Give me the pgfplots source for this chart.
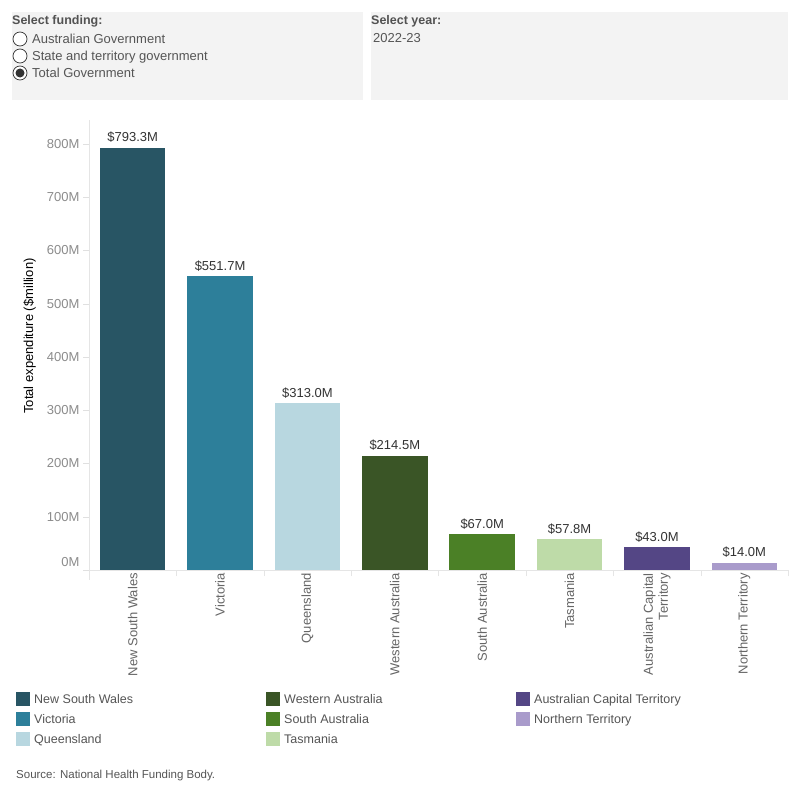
\documentclass[border=0pt]{standalone}
\usepackage{pgfplots}
\pgfplotsset{compat=1.18}
\usepackage{fontspec}
\setmainfont{Liberation Sans}
\definecolor{cNSW}{HTML}{285564}
\definecolor{cVIC}{HTML}{2D7F9A}
\definecolor{cQLD}{HTML}{B8D7E0}
\definecolor{cWA}{HTML}{3A5526}
\definecolor{cSA}{HTML}{4B8026}
\definecolor{cTAS}{HTML}{BEDBA8}
\definecolor{cACT}{HTML}{544685}
\definecolor{cNT}{HTML}{A99BCB}
\definecolor{panel}{HTML}{F3F3F3}
\definecolor{darktext}{HTML}{333333}
\definecolor{midtext}{HTML}{555555}
\definecolor{tickgray}{HTML}{8C8C8C}
\definecolor{xlabgray}{HTML}{666666}
\newcommand{\fs}{\fontsize{13}{15}\selectfont}
\newcommand{\fl}{\fontsize{12.5}{15}\selectfont}
\begin{document}
\begin{tikzpicture}
\fill[white] (0pt,0pt) rectangle (800pt,-800pt);
\useasboundingbox (0pt,0pt) rectangle (800pt,-800pt);
% filter panels
\fill[panel] (12pt,-12pt) rectangle (363pt,-100pt);
\fill[panel] (371pt,-12pt) rectangle (788pt,-100pt);
\node[anchor=base west, inner sep=0pt, font=\fontsize{12.5}{15}\selectfont\bfseries, text=darktext!85] at (12pt,-25pt) {Select funding:};
\foreach \yy/\txt in {39/Australian Government,56/State and territory government,73/Total Government}{
  \draw[darktext, line width=0.7pt, fill=white] (20pt,-\yy pt) circle (7pt);
  \node[anchor=base west, inner sep=0pt, font=\fs, text=midtext] at (32pt,-\yy pt-4.5pt) {\txt};
}
\fill[darktext] (20pt,-73pt) circle (4.5pt);
\node[anchor=base west, inner sep=0pt, font=\fontsize{12.5}{15}\selectfont\bfseries, text=darktext!85] at (371pt,-25pt) {Select year:};
\node[anchor=base west, inner sep=0pt, font=\fs, text=midtext] at (373pt,-43pt) {2022-23};

\begin{axis}[
  at={(89pt,-570pt)}, anchor=south west,
  scale only axis, width=699pt, height=450pt,
  xmin=-0.5, xmax=7.5, ymin=0, ymax=845,
  ybar, bar width=0.75, bar shift=0pt,
  axis x line*=bottom, axis y line*=left,
  axis line style={draw=black!10, line width=0.8pt},
  ytick={100,200,...,800},
  yticklabels={100M,200M,300M,400M,500M,600M,700M,800M},
  extra y ticks={0}, extra y tick labels={0M},
  extra y tick style={yticklabel style={yshift=8pt}},
  yticklabel style={font=\fs, text=tickgray},
  ytick style={draw=black!12},
  major tick length=6pt, tick align=outside,
  xtick={-0.5,0.5,...,7.5}, xticklabels={},
  xtick style={draw=black!10},
  extra x ticks={0,1,2,3,4,5,6,7},
  extra x tick labels={New South Wales,Victoria,Queensland,Western Australia,South Australia,Tasmania,{Australian Capital\\Territory},Northern Territory},
  extra x tick style={major tick length=0pt, tick style={draw=none}},
  xticklabel style={rotate=90, anchor=east, align=right, font=\fs, text=xlabgray, inner sep=3pt},
  ylabel={Total expenditure (\$million)},
  ylabel style={at={(axis description cs:-0.085,0.52)}, anchor=center, font=\fs, text=black},
  nodes near coords={\$\pgfmathprintnumber[fixed,fixed zerofill,precision=1,assume math mode=true]{\pgfplotspointmeta}M},
  every node near coord/.append style={font=\fs, text=darktext, inner sep=2pt, yshift=3pt},
  clip=false,
]
\addplot[fill=cNSW, draw=none] coordinates {(0,793.3)};
\addplot[fill=cVIC, draw=none] coordinates {(1,551.7)};
\addplot[fill=cQLD, draw=none] coordinates {(2,313.0)};
\addplot[fill=cWA, draw=none] coordinates {(3,214.5)};
\addplot[fill=cSA, draw=none] coordinates {(4,67.0)};
\addplot[fill=cTAS, draw=none] coordinates {(5,57.8)};
\addplot[fill=cACT, draw=none] coordinates {(6,43.0)};
\addplot[fill=cNT, draw=none] coordinates {(7,14.0)};
\end{axis}
\draw[black!10, line width=0.8pt] (89pt,-570pt) -- (89pt,-580pt);

% legend
\foreach \xx/\yy/\col/\txt in {
  16/699/cNSW/New South Wales, 16/719/cVIC/Victoria, 16/739/cQLD/Queensland,
  266/699/cWA/Western Australia, 266/719/cSA/South Australia, 266/739/cTAS/Tasmania,
  516/699/cACT/Australian Capital Territory, 516/719/cNT/Northern Territory}{
  \fill[\col] (\xx pt,-\yy pt+7pt) rectangle (\xx pt+14pt,-\yy pt-7pt);
  \node[anchor=base west, inner sep=0pt, font=\fl, text=midtext] at (\xx pt+18pt,-\yy pt-4.5pt) {\txt};
}
\node[anchor=base west, inner sep=0pt, font=\fontsize{11.5}{13}\selectfont, text=midtext] at (16pt,-778pt) {Source: National Health Funding Body.};
\end{tikzpicture}
\end{document}
